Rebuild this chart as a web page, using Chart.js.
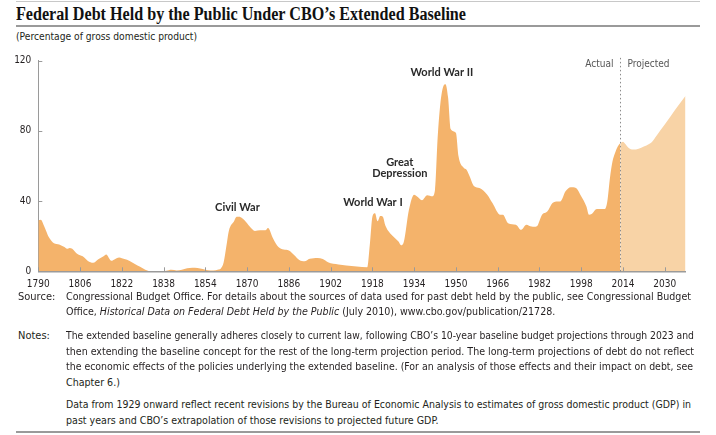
<!DOCTYPE html>
<html><head><meta charset="utf-8">
<script src="https://cdn.jsdelivr.net/npm/chart.js@4"></script>
<style>
html,body{margin:0;padding:0;background:#fff;}
body{width:716px;height:435px;position:relative;overflow:hidden;color:#231f20;
  font-family:"Liberation Sans Narrow","DejaVu Sans Condensed","Liberation Sans",sans-serif;}
.abs{position:absolute;white-space:nowrap;transform-origin:0 50%;}
.rule{position:absolute;left:16px;width:684px;background:#9a9a9a;}
#title{left:16px;top:3px;font-family:"Liberation Serif",serif;font-weight:bold;font-size:18px;line-height:22px;color:#111;}
#subtitle{left:16px;top:30px;font-size:11px;line-height:14px;}
.note{font-size:11px;line-height:14px;}
#chartbox{position:absolute;left:0;top:0;width:716px;height:300px;}
</style></head>
<body>
<div class="rule" style="top:1px;height:1px;background:#c8c8c8"></div>
<div id="title" class="abs" data-w="450">Federal Debt Held by the Public Under CBO’s Extended Baseline</div>
<div class="rule" style="top:25px;height:2px;"></div>
<div id="subtitle" class="abs" data-w="181">(Percentage of gross domestic product)</div>
<div id="chartbox"><canvas id="c" width="716" height="300"></canvas></div>

<div class="abs note" style="left:18px;top:290px">Source:</div>
<div class="abs note" style="left:66px;top:290px" data-w="625">Congressional Budget Office. For details about the sources of data used for past debt held by the public, see Congressional Budget</div>
<div class="abs note" style="left:66px;top:305px" data-ref="1">Office, <i>Historical Data on Federal Debt Held by the Public</i> (July 2010), www.cbo.gov/publication/21728.</div>
<div class="abs note" style="left:18px;top:329px">Notes:</div>
<div class="abs note" style="left:66px;top:329px" data-w="628">The extended baseline generally adheres closely to current law, following CBO’s 10-year baseline budget projections through 2023 and</div>
<div class="abs note" style="left:66px;top:344.5px" data-w="628">then extending the baseline concept for the rest of the long-term projection period. The long-term projections of debt do not reflect</div>
<div class="abs note" style="left:66px;top:360px" data-w="627">the economic effects of the policies underlying the extended baseline. (For an analysis of those effects and their impact on debt, see</div>
<div class="abs note" style="left:66px;top:375.5px" data-ref="1">Chapter 6.)</div>
<div class="abs note" style="left:66px;top:398px" data-w="625">Data from 1929 onward reflect recent revisions by the Bureau of Economic Analysis to estimates of gross domestic product (GDP) in</div>
<div class="abs note" style="left:66px;top:413.5px" data-ref="1">past years and CBO’s extrapolation of those revisions to projected future GDP.</div>
<div class="rule" style="top:431px;height:2px;"></div>

<script>
// ---- data ----
const actualYears = [
  1790,1791,1792,1793,1794,1796,1798,1800,1801,1802,
  1803,1805,1807,1809,1811,1813,1815,1816,1818,1819,
  1821,1822,1824,1826,1828,1830,1832,1833,1838,1839,
  1841,1843,1845,1847,1849,1851,1853,1855,1857,1859,
  1860,1861,1862,1863,1865,1866,1867,1868,1869,1871,
  1873,1875,1877,1878,1880,1882,1884,1886,1888,1890,
  1892,1894,1897,1899,1901,1905,1908,1912,1916,1917,
  1918,1919,1920,1921,1922,1923,1926,1928,1929,1930,
  1932,1934,1935,1937,1939,1941,1942,1943,1944,1945,
  1946,1947,1948,1950,1951,1953,1954,1955,1957,1959,
  1962,1964,1967,1968,1970,1973,1975,1977,1978,1980,
  1981,1983,1985,1987,1989,1990,1992,1994,1996,1998,
  2000,2001,2002,2004,2006,2007,2008,2009,2010,2011,
  2012,2013];
const actualValues = [
  29.1,29.3,26.5,23,19.5,16,15.3,13.8,12.8,13.3,
  12.9,9.8,8.5,5.9,4.8,6.9,8.6,9.6,6,6.6,
  7.9,7.5,6.6,5,3.3,1.8,0.3,0,0,0.3,
  0.9,0.5,0.9,1.7,2,1.9,1.3,0.6,0.5,1,
  1.8,5,13.8,23,28.5,31,31,30.3,29,25.5,
  23,23.4,23.4,24.7,18.6,13.8,12.4,11.9,9.3,6.5,
  5.7,7.1,7.6,7,5.2,3.9,3.3,2.8,2.3,15,
  31,33,28.5,31.5,31,26,19.8,16.9,14.8,16.5,
  35,43.6,42.7,40.5,43.3,42.7,46.5,76,95,104.5,
  106.5,99,81,78.8,65.5,58.9,57.9,55,48.4,47.4,
  43.6,38.9,32.2,32.2,27.4,26.5,23.6,26.5,26,25.3,
  25.6,32.2,34,38.9,39.8,39.8,45.5,47.9,47.4,42.7,
  36.9,32.2,32.6,35.4,35.4,35.4,39.8,53,62.6,67.5,
  71,73];
const projectedYears  = [2013,2014,2015,2016,2017,2018,2020,2022,2024,2025,2027,2030,2034,2038];
const projectedValues = [73,73.8,72.3,70.5,69.5,69.3,69.8,71,72.5,73.5,77.5,83.5,92,100];
const xTickLabels = [1790,1806,1822,1838,1854,1870,1886,1902,1918,1934,1950,1966,1982,1998,2014,2030];
const yTickLabels = [0,40,80,120];
const dividerYear = 2013;
const eventLabels = [
  {text:"Civil War",     year:1866.3, value:36.5},
  {text:"World War I",   year:1918.2, value:39.3},
  {text:"Great",         year:1928.5, value:61.9},
  {text:"Depression",    year:1928.5, value:55.6},
  {text:"World War II",  year:1944.6, value:113}
];

// ---- chart ----
const NARROW = "'Liberation Sans Narrow','DejaVu Sans Condensed','Liberation Sans',sans-serif";
const toPts = (xs, ys) => xs.map((x, i) => ({x: x, y: ys[i]}));

const decorPlugin = {
  id: 'decor',
  afterDatasetsDraw(chart) {
    const {ctx, chartArea, scales} = chart;
    const xs = scales.x, ys = scales.y;
    ctx.save();
    // inside tick marks
    ctx.strokeStyle = '#9a9a9a';
    ctx.lineWidth = 1;
    ctx.beginPath();
    xTickLabels.forEach(v => {
      const px = Math.round(xs.getPixelForValue(v)) + 0.5;
      ctx.moveTo(px, chartArea.bottom);
      ctx.lineTo(px, chartArea.bottom - 4);
    });
    yTickLabels.forEach(v => {
      if (v === 0) return;
      const py = Math.round(ys.getPixelForValue(v)) + 0.5;
      ctx.moveTo(chartArea.left, py);
      ctx.lineTo(chartArea.left + 4, py);
    });
    ctx.stroke();
    // divider
    const dx = Math.round(xs.getPixelForValue(dividerYear)) + 0.5;
    ctx.setLineDash([1.5, 2.5]);
    ctx.strokeStyle = '#8c8c8c';
    ctx.beginPath();
    ctx.moveTo(dx, ys.getPixelForValue(121.5));
    ctx.lineTo(dx, chartArea.bottom);
    ctx.stroke();
    ctx.setLineDash([]);
    // Actual / Projected
    ctx.font = "10px " + NARROW;
    ctx.fillStyle = '#555';
    ctx.textBaseline = 'middle';
    const ly = ys.getPixelForValue(117.5);
    ctx.textAlign = 'right';
    ctx.fillText('Actual', dx - 7, ly);
    ctx.textAlign = 'left';
    ctx.fillText('Projected', dx + 7, ly);
    // event labels
    ctx.font = "bold 11px Lato, 'Open Sans', sans-serif";
    ctx.fillStyle = '#2a2a2a';
    ctx.textAlign = 'center';
    eventLabels.forEach(l => {
      ctx.fillText(l.text, xs.getPixelForValue(l.year), ys.getPixelForValue(l.value));
    });
    ctx.restore();
  }
};

new Chart(document.getElementById('c'), {
  type: 'line',
  data: {
    datasets: [
      {label:'Actual', data: toPts(actualYears, actualValues), fill:'origin',
       backgroundColor:'#F4B36B', borderWidth:0, borderColor:'rgba(0,0,0,0)', pointRadius:0,
       cubicInterpolationMode:'monotone'},
      {label:'Projected', data: toPts(projectedYears, projectedValues), fill:'origin',
       backgroundColor:'#F8D3A6', borderWidth:0, borderColor:'rgba(0,0,0,0)', pointRadius:0,
       cubicInterpolationMode:'monotone'}
    ]
  },
  options: {
    responsive:false, animation:false, devicePixelRatio:1,
    layout:{padding:{left:0, top:60.5, right:30.4, bottom:0}},
    plugins:{legend:{display:false}, tooltip:{enabled:false}},
    scales:{
      x:{type:'linear', min:1790, max:2038,
         afterBuildTicks: s => { s.ticks = xTickLabels.map(v => ({value:v})); },
         afterFit: s => { s.height = 28.7; },
         grid:{display:false, drawTicks:false},
         border:{display:true, color:'#9a9a9a', width:1.5},
         ticks:{autoSkip:false, maxRotation:0, padding:7, color:'#231f20',
                font:{family:NARROW, size:10}, callback: v => String(v)}},
      y:{type:'linear', min:0, max:120,
         afterBuildTicks: s => { s.ticks = yTickLabels.map(v => ({value:v})); },
         afterFit: s => { s.width = 38.3; },
         grid:{display:false, drawTicks:false},
         border:{display:true, color:'#9a9a9a', width:1},
         ticks:{padding:7, color:'#231f20', font:{family:NARROW, size:10}}}
    }
  },
  plugins:[decorPlugin]
});

// ---- fit text widths ----
function fit() {
  let refScale = 1;
  const els = Array.from(document.querySelectorAll('[data-w]'));
  els.forEach((el, i) => {
    el.style.transform = 'none';
    const w = el.getBoundingClientRect().width;
    const s = parseFloat(el.dataset.w) / w;
    el.style.transform = 'scaleX(' + s + ')';
    if (el.classList.contains('note') && refScale === 1) refScale = s;
  });
  document.querySelectorAll('[data-ref]').forEach(el => {
    el.style.transform = 'scaleX(' + refScale + ')';
  });
}
if (document.fonts && document.fonts.ready) document.fonts.ready.then(fit); else fit();
fit();
</script>
</body></html>
